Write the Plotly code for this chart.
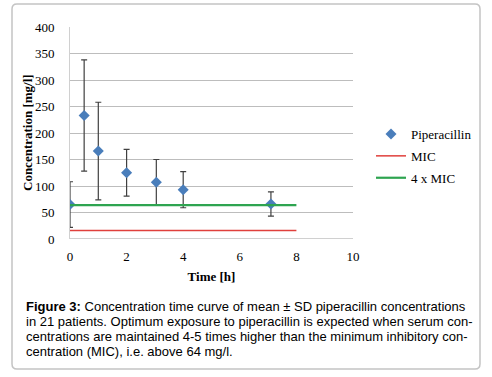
import plotly.graph_objects as go

time_h = [0, 0.5, 1, 2, 3.05, 4, 7.1]
mean_conc = [65, 233, 166, 125, 107, 93, 66]
sd_conc = [43, 105, 92, 44, 43, 34, 23]

line_x = [0, 8]
mic_vals = [16, 16]
mic4_vals = [64, 64]

x_ticks = [0, 2, 4, 6, 8, 10]
y_ticks = [0, 50, 100, 150, 200, 250, 300, 350, 400]

caption_lines = [
    "<b>Figure 3:</b> Concentration time curve of mean ± SD piperacillin concentrations",
    "in 21 patients. Optimum exposure to piperacillin is expected when serum con-",
    "centrations are maintained 4-5 times higher than the minimum inhibitory con-",
    "centration (MIC), i.e. above 64 mg/l.",
]

serif = "Liberation Serif, Times New Roman, serif"
sans = "Liberation Sans, Arial, sans-serif"

fig = go.Figure()
fig.add_trace(go.Scatter(
    x=time_h, y=mean_conc, mode="markers", name="Piperacillin",
    marker=dict(symbol="diamond", size=8.5, color="#4a7ebb"),
    error_y=dict(type="data", array=sd_conc, visible=True, color="#404040",
                 thickness=1.2, width=3),
    legendgroup="a",
))
fig.add_trace(go.Scatter(
    x=line_x, y=mic_vals, mode="lines", name="MIC",
    line=dict(color="#e0403c", width=1.5), legendgroup="b",
))
fig.add_trace(go.Scatter(
    x=line_x, y=mic4_vals, mode="lines", name="4 x MIC",
    line=dict(color="#2ea450", width=2.2), legendgroup="c",
))

L, R, T, B = 70, 139, 27, 138
W, H = 492, 377
pw = W - L - R
ph = H - T - B

def px_to_paper_x(px):
    return (px - L) / pw

def px_to_paper_y(py):
    return (H - B - py) / ph

fig.update_layout(
    width=W, height=H,
    margin=dict(l=L, r=R, t=T, b=B),
    paper_bgcolor="white", plot_bgcolor="white",
    font=dict(family=serif, size=13, color="#000000"),
    showlegend=True,
    legend=dict(x=px_to_paper_x(371), y=px_to_paper_y(119), xanchor="left", yanchor="top",
                font=dict(family=serif, size=13), tracegroupgap=2,
                bgcolor="rgba(0,0,0,0)", itemwidth=30),
    xaxis=dict(range=[0, 10], tickvals=x_ticks, showgrid=False, zeroline=False,
               showline=False, ticks="", ticklabelstandoff=8, automargin=False,
               tickfont=dict(family=serif, size=13),
               title=dict(text="<b>Time [h]</b>", font=dict(family=serif, size=13), standoff=8)),
    yaxis=dict(range=[0, 400], tickvals=y_ticks, showgrid=True, gridcolor="#bdbdbd",
               gridwidth=1, zeroline=False, showline=True, linecolor="#d0d0d0", linewidth=1,
               ticks="", ticklabelstandoff=12, automargin=False,
               tickfont=dict(family=serif, size=13)),
)

# y axis title
fig.add_annotation(text="<b>Concentration [mg/l]</b>", xref="paper", yref="paper",
                   x=px_to_paper_x(27), y=0.5, textangle=-90, showarrow=False,
                   xanchor="center", yanchor="middle",
                   font=dict(family=serif, size=13, color="#000000"))

# x axis baseline (gray) at y=0
fig.add_shape(type="line", xref="x", yref="y", x0=0, x1=10, y0=0, y1=0,
              line=dict(color="#a0a0a0", width=1), layer="below")

# outer rounded border
x0, x1 = px_to_paper_x(12), px_to_paper_x(480)
y0, y1 = px_to_paper_y(369), px_to_paper_y(4)
rx = 5 / pw
ry = 5 / ph
path = (f"M {x0+rx},{y1} L {x1-rx},{y1} Q {x1},{y1} {x1},{y1-ry} "
        f"L {x1},{y0+ry} Q {x1},{y0} {x1-rx},{y0} L {x0+rx},{y0} "
        f"Q {x0},{y0} {x0},{y0+ry} L {x0},{y1-ry} Q {x0},{y1} {x0+rx},{y1} Z")
fig.add_shape(type="path", xref="paper", yref="paper", path=path,
              line=dict(color="#c4c4c4", width=1.5), layer="below")

for i, line in enumerate(caption_lines):
    fig.add_annotation(text=line, xref="paper", yref="paper",
                       x=px_to_paper_x(24), y=px_to_paper_y(306 + i * 15.3),
                       xanchor="left", yanchor="middle", showarrow=False,
                       font=dict(family=sans, size=13, color="#000000"))

fig.write_html("out.html", config={"displayModeBar": False},
               post_script="document.body.style.margin='0';")
